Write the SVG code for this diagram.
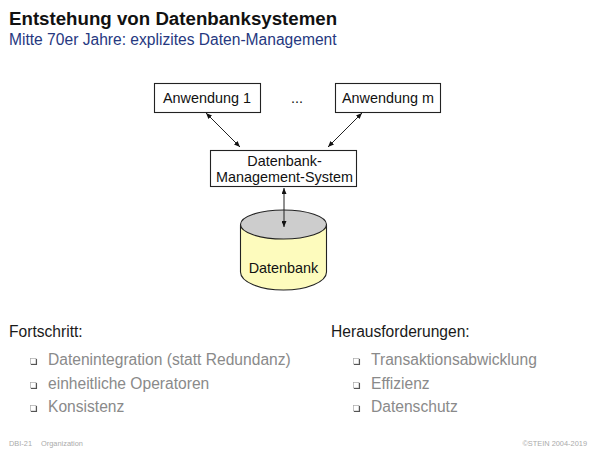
<svg xmlns="http://www.w3.org/2000/svg" width="600" height="450" viewBox="0 0 600 450">
<style>
text{font-family:"Liberation Sans",Arial,sans-serif}
.b{fill:#fff;stroke:#222;stroke-width:1.1}
.n{font-size:14.4px;fill:#111;text-anchor:middle}
.h{font-size:15.6px;fill:#1a1a1a}
.g{font-size:15.6px;fill:#8a8a8a}
.q{fill:#fff;stroke:#aaa;stroke-width:.7}
.s{fill:none;stroke:#555;stroke-width:1.1}
.f{font-size:7.4px;fill:#aaa}
.c{fill:none;stroke:#222;stroke-width:1;marker-start:url(#a);marker-end:url(#a)}
</style>
<defs>
<marker id="a" viewBox="0 0 6 5" refX="6" refY="2.500" markerWidth="6" markerHeight="5" markerUnits="userSpaceOnUse" orient="auto-start-reverse"><path d="M0 0L6 2.500L0 5Z" fill="#111"/></marker>
<g id="bullet"><rect class="q" x="0" y="0" width="5.500" height="5.500"/><path class="s" d="M.5 6H6V.5"/></g>
</defs>
<rect width="600" height="450" fill="#fff"/>
<text x="9" y="25" font-size="18.700" font-weight="bold" fill="#111">Entstehung von Datenbanksystemen</text>
<text x="9" y="45" font-size="15.600" fill="#26387f">Mitte 70er Jahre: explizites Daten-Management</text>
<g id="node-db">
<path d="M240.500 225V272C240.500 282 260 290 283.500 290S326.500 282 326.500 272V225Z" fill="#fdfbbd" stroke="#222" stroke-width="1.1"/>
<ellipse cx="283.500" cy="224.500" rx="43" ry="14.500" fill="#cdcdcd" stroke="#222" stroke-width="1.1"/>
<text class="n" x="283.500" y="273">Datenbank</text>
</g>
<g id="node-app1"><rect class="b" x="154.500" y="83.500" width="106" height="29"/><text class="n" x="207" y="103">Anwendung 1</text></g>
<g id="node-dots"><text class="n" x="297" y="103">...</text></g>
<g id="node-appm"><rect class="b" x="335.500" y="83.500" width="105" height="29"/><text class="n" x="388" y="103">Anwendung m</text></g>
<g id="node-dbms"><rect class="b" x="210.500" y="150.500" width="146" height="36"/><text class="n" x="284.500" y="166">Datenbank-</text><text class="n" x="284.500" y="182">Management-System</text></g>
<g id="connectors">
<path class="c" d="M206 113L240 147"/>
<path class="c" d="M362 113L328 147"/>
<path class="c" d="M284 188V227"/>
</g>
<g id="left">
<text class="h" x="9" y="337">Fortschritt:</text>
<use href="#bullet" x="30.500" y="358.500"/><text class="g" x="48" y="365">Datenintegration (statt Redundanz)</text>
<use href="#bullet" x="30.500" y="382.500"/><text class="g" x="48" y="389">einheitliche Operatoren</text>
<use href="#bullet" x="30.500" y="405.500"/><text class="g" x="48" y="412">Konsistenz</text>
</g>
<g id="right">
<text class="h" x="331" y="337">Herausforderungen:</text>
<use href="#bullet" x="353.500" y="358.500"/><text class="g" x="371" y="365">Transaktionsabwicklung</text>
<use href="#bullet" x="353.500" y="382.500"/><text class="g" x="371" y="389">Effizienz</text>
<use href="#bullet" x="353.500" y="405.500"/><text class="g" x="371" y="412">Datenschutz</text>
</g>
<text class="f" x="9" y="446">DBI-21</text><text class="f" x="41" y="446">Organization</text>
<text class="f" x="587" y="446" text-anchor="end">©STEIN 2004-2019</text>
</svg>
